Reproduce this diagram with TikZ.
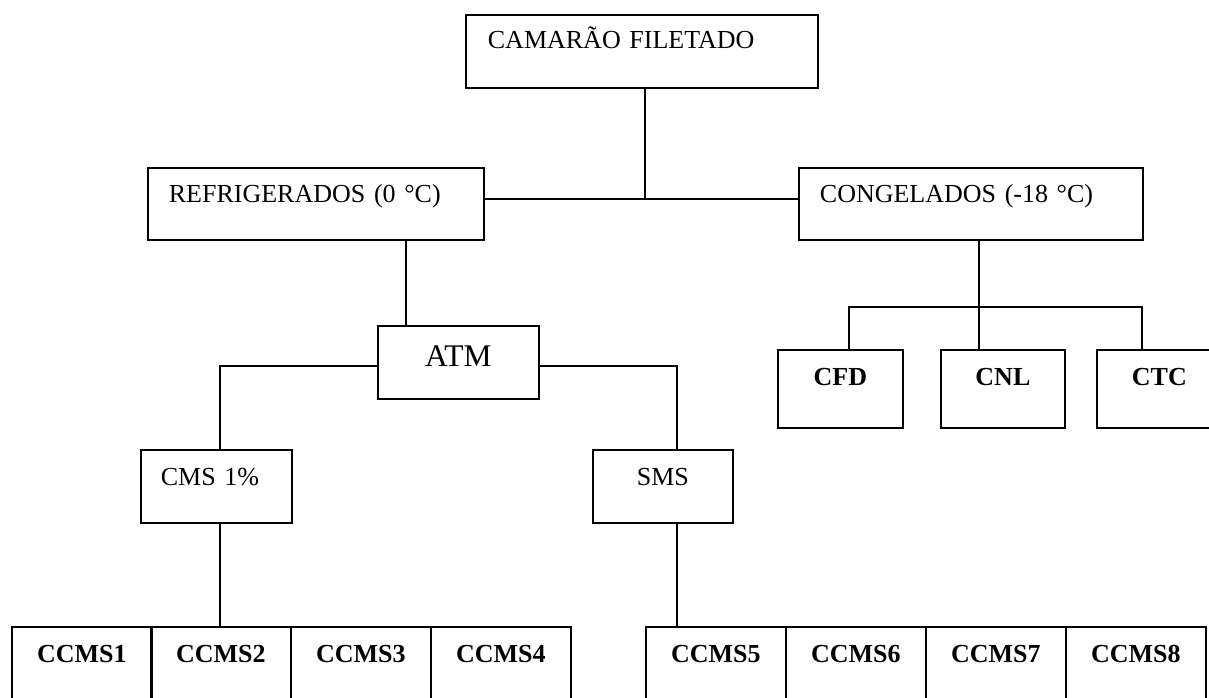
\documentclass[tikz,border=0pt]{standalone}
\usepackage{fontspec}
\setmainfont{Liberation Serif}
\begin{document}
\begin{tikzpicture}[x=1pt,y=-1pt,
  every node/.style={font=\fontsize{26}{30}\selectfont},
  lbox/.style n args={4}{draw, line width=1.8pt, anchor=north west, inner xsep=#1, inner ysep=0pt,
      text width=#2, text height=#3, text depth=#4, align=left},
  cbox/.style n args={3}{draw, line width=1.8pt, anchor=north west, inner xsep=0pt, inner ysep=0pt,
      text width=#1, text height=#2, text depth=#3, align=center},
  leaf/.style={cbox={140pt}{36pt}{80pt}, font=\fontsize{26}{30}\selectfont\bfseries},
  sub/.style={cbox={124pt}{36pt}{42pt}, font=\fontsize{26}{30}\selectfont\bfseries},
  link/.style={line width=1.6pt}]
\useasboundingbox (0,0) rectangle (1209,697);
\clip (0,0) rectangle (1209,697);

% level nodes
\node[lbox={22pt}{308pt}{34pt}{39pt}] (top) at (465,14) {CAMARÃO FILETADO};
\node[lbox={21pt}{294pt}{35pt}{37pt}] (ref) at (147,167) {REFRIGERADOS (0 °C)};
\node[lbox={21pt}{302pt}{35pt}{37pt}] (cong) at (798,167) {CONGELADOS (-18 °C)};
\node[cbox={161pt}{41pt}{32pt}, font=\fontsize{31.5}{36}\selectfont] (atm) at (377,325) {ATM};
\node[lbox={20pt}{111pt}{36pt}{37pt}] (cms) at (140,449) {CMS 1\%};
\node[cbox={140pt}{36pt}{37pt}] (sms) at (592,449) {SMS};

% frozen subgroups
\node[sub, text width=125pt] (cfd) at (777,349) {CFD};
\node[sub] (cnl) at (940,349) {CNL};
\node[sub, text width=125pt] (ctc) at (1096,349) {CTC};

% leaves
\node[leaf] (c1) at (11,626) {CCMS1};
\node[leaf] (c2) at (150,626) {CCMS2};
\node[leaf] (c3) at (290,626) {CCMS3};
\node[leaf] (c4) at (430,626) {CCMS4};
\node[leaf] (c5) at (645,626) {CCMS5};
\node[leaf] (c6) at (785,626) {CCMS6};
\node[leaf] (c7) at (925,626) {CCMS7};
\node[leaf] (c8) at (1065,626) {CCMS8};

% junction coordinates
\coordinate (j1) at (645,199);
\coordinate (j2) at (406,0);
\coordinate (ja) at (220,366);
\coordinate (jb) at (677,366);
\coordinate (jc) at (979,307);
\coordinate (jcl) at (849,307);
\coordinate (jcr) at (1142,307);

% connectors
\draw[link] (top.south -| j1) -- (j1);
\draw[link] (ref.east |- j1) -- (cong.west |- j1);
\draw[link] (ref.south -| j2) -- (atm.north -| j2);
\draw[link] (atm.west |- ja) -- (ja) -- (cms.north -| ja);
\draw[link] (atm.east |- jb) -- (jb) -- (sms.north -| jb);
\draw[link] (cms.south -| ja) -- (c2.north -| ja);
\draw[link] (sms.south -| jb) -- (c5.north -| jb);
\draw[link] (cong.south -| jc) -- (cnl.north -| jc);
\draw[link] (cfd.north -| jcl) -- (jcl) -- (jcr) -- (ctc.north -| jcr);
\end{tikzpicture}
\end{document}
